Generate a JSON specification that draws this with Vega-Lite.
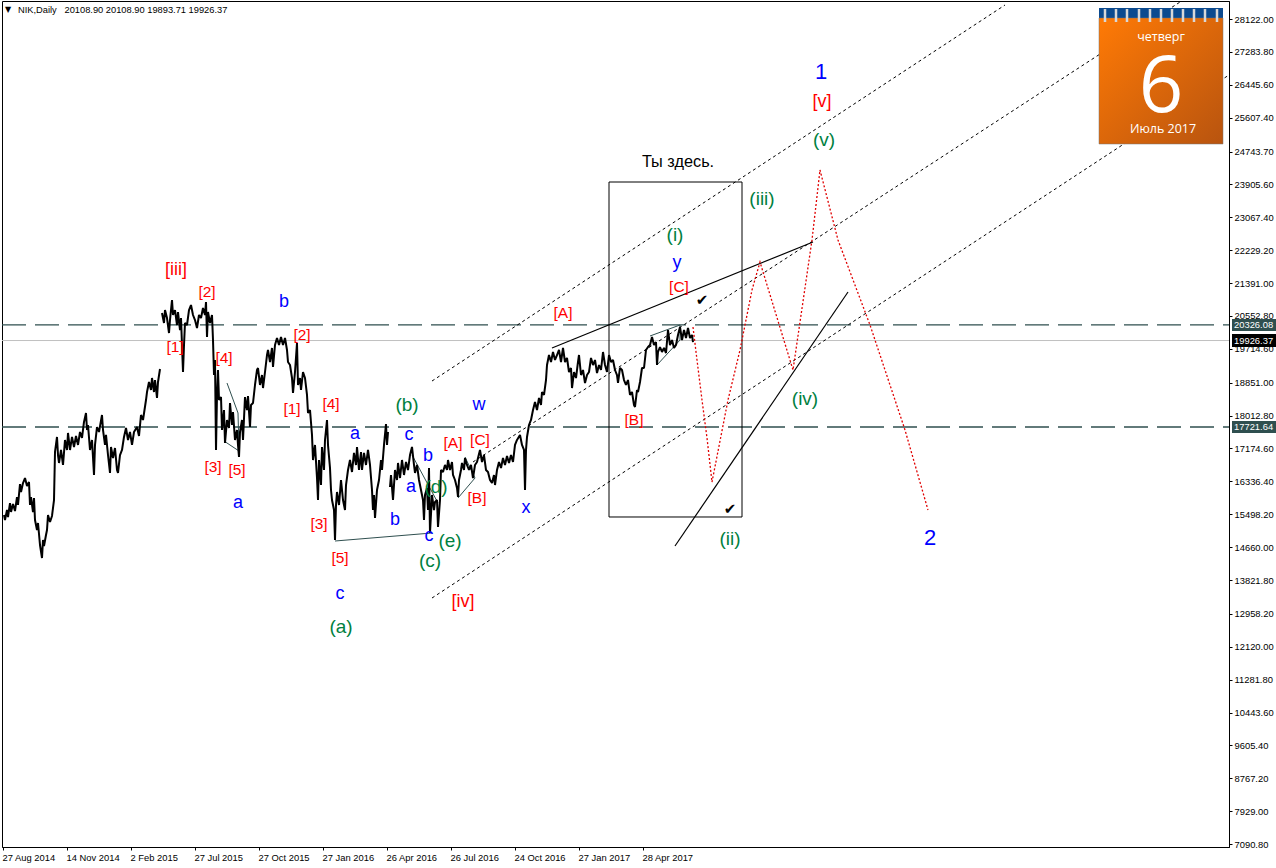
{"$schema":"https://vega.github.io/schema/vega-lite/v6.json","width":1227,"height":846,"autosize":{"type":"none"},"padding":{"left":2,"top":1,"right":47,"bottom":21},"background":"#ffffff","config":{"view":{"stroke":"#000000","strokeWidth":1},"axis":{"grid":false,"title":null,"domainColor":"#000000","tickColor":"#000000","labelColor":"#000000","labelFont":"Liberation Sans","labelFontSize":9.4,"tickSize":3,"labelOverlap":false,"labelBound":false,"labelFlush":false}},"datasets":{"price":[
{"seg":1,"bar":1,"price":15479},{"seg":1,"bar":2,"price":15352},{"seg":1,"bar":4,"price":15606},{"seg":1,"bar":5,"price":15428},{"seg":1,"bar":7,"price":15784},{"seg":1,"bar":8,"price":15555},{"seg":1,"bar":10,"price":15759},{"seg":1,"bar":12,"price":15581},{"seg":1,"bar":14,"price":15937},{"seg":1,"bar":15,"price":15734},{"seg":1,"bar":17,"price":16269},{"seg":1,"bar":18,"price":16065},{"seg":1,"bar":20,"price":16294},{"seg":1,"bar":22,"price":16422},{"seg":1,"bar":24,"price":16218},{"seg":1,"bar":26,"price":16320},{"seg":1,"bar":27,"price":15734},{"seg":1,"bar":28,"price":15937},{"seg":1,"bar":30,"price":15555},{"seg":1,"bar":31,"price":15912},{"seg":1,"bar":32,"price":15352},{"seg":1,"bar":34,"price":15097},{"seg":1,"bar":35,"price":15275},{"seg":1,"bar":37,"price":14714},{"seg":1,"bar":39,"price":14383},{"seg":1,"bar":40,"price":14842},{"seg":1,"bar":41,"price":14689},{"seg":1,"bar":43,"price":14969},{"seg":1,"bar":44,"price":15097},{"seg":1,"bar":45,"price":15479},{"seg":1,"bar":47,"price":15301},{"seg":1,"bar":49,"price":15454},{"seg":1,"bar":51,"price":15861},{"seg":1,"bar":52,"price":17085},{"seg":1,"bar":54,"price":17468},{"seg":1,"bar":55,"price":17008},{"seg":1,"bar":56,"price":16805},{"seg":1,"bar":58,"price":17136},{"seg":1,"bar":60,"price":16754},{"seg":1,"bar":62,"price":17391},{"seg":1,"bar":64,"price":17136},{"seg":1,"bar":65,"price":17570},{"seg":1,"bar":67,"price":17136},{"seg":1,"bar":69,"price":17468},{"seg":1,"bar":71,"price":17213},{"seg":1,"bar":73,"price":17493},{"seg":1,"bar":75,"price":17264},{"seg":1,"bar":77,"price":17595},{"seg":1,"bar":79,"price":17442},{"seg":1,"bar":81,"price":17850},{"seg":1,"bar":83,"price":18079},{"seg":1,"bar":84,"price":17646},{"seg":1,"bar":85,"price":17773},{"seg":1,"bar":87,"price":17136},{"seg":1,"bar":89,"price":17391},{"seg":1,"bar":91,"price":16499},{"seg":1,"bar":92,"price":17264},{"seg":1,"bar":94,"price":17722},{"seg":1,"bar":96,"price":17595},{"seg":1,"bar":99,"price":18028},{"seg":1,"bar":100,"price":17646},{"seg":1,"bar":102,"price":17264},{"seg":1,"bar":103,"price":17519},{"seg":1,"bar":105,"price":17008},{"seg":1,"bar":107,"price":16550},{"seg":1,"bar":108,"price":17213},{"seg":1,"bar":110,"price":16932},{"seg":1,"bar":112,"price":17187},{"seg":1,"bar":114,"price":16626},{"seg":1,"bar":115,"price":16550},{"seg":1,"bar":117,"price":17008},{"seg":1,"bar":119,"price":17136},{"seg":1,"bar":121,"price":17468},{"seg":1,"bar":123,"price":17697},{"seg":1,"bar":125,"price":17391},{"seg":1,"bar":127,"price":17595},{"seg":1,"bar":129,"price":17264},{"seg":1,"bar":131,"price":17595},{"seg":1,"bar":134,"price":17722},{"seg":1,"bar":136,"price":17493},{"seg":1,"bar":138,"price":18028},{"seg":1,"bar":140,"price":17901},{"seg":1,"bar":143,"price":18410},{"seg":1,"bar":144,"price":18614},{"seg":1,"bar":146,"price":18869},{"seg":1,"bar":148,"price":18665},{"seg":1,"bar":149,"price":18971},{"seg":1,"bar":151,"price":18614},{"seg":1,"bar":152,"price":18920},{"seg":1,"bar":154,"price":18461},{"seg":1,"bar":155,"price":18869},{"seg":1,"bar":157,"price":19200},
{"seg":2,"bar":159,"price":20628},{"seg":2,"bar":161,"price":20373},{"seg":2,"bar":162,"price":20704},{"seg":2,"bar":164,"price":20500},{"seg":2,"bar":166,"price":20118},{"seg":2,"bar":167,"price":20449},{"seg":2,"bar":169,"price":20959},{"seg":2,"bar":170,"price":20577},{"seg":2,"bar":172,"price":20704},{"seg":2,"bar":174,"price":20322},{"seg":2,"bar":175,"price":20653},{"seg":2,"bar":177,"price":20194},{"seg":2,"bar":178,"price":20500},{"seg":2,"bar":180,"price":19124},{"seg":2,"bar":181,"price":19812},{"seg":2,"bar":182,"price":20373},{"seg":2,"bar":184,"price":20322},{"seg":2,"bar":186,"price":20704},{"seg":2,"bar":188,"price":20832},{"seg":2,"bar":190,"price":20577},{"seg":2,"bar":192,"price":20449},{"seg":2,"bar":194,"price":20245},{"seg":2,"bar":196,"price":20577},{"seg":2,"bar":198,"price":20500},{"seg":2,"bar":200,"price":20755},{"seg":2,"bar":202,"price":20577},{"seg":2,"bar":203,"price":20908},{"seg":2,"bar":204,"price":20016},{"seg":2,"bar":205,"price":20653},{"seg":2,"bar":207,"price":20373},{"seg":2,"bar":209,"price":20577},{"seg":2,"bar":210,"price":19939},{"seg":2,"bar":211,"price":19047},{"seg":2,"bar":212,"price":19430},{"seg":2,"bar":213,"price":17136},{"seg":2,"bar":214,"price":18538},{"seg":2,"bar":215,"price":19175},{"seg":2,"bar":216,"price":18410},{"seg":2,"bar":218,"price":18486},{"seg":2,"bar":219,"price":17646},{"seg":2,"bar":221,"price":18155},{"seg":2,"bar":222,"price":17315},{"seg":2,"bar":224,"price":17901},{"seg":2,"bar":226,"price":17697},{"seg":2,"bar":227,"price":18334},{"seg":2,"bar":229,"price":17773},{"seg":2,"bar":230,"price":18104},{"seg":2,"bar":232,"price":17391},{"seg":2,"bar":234,"price":17646},{"seg":2,"bar":235,"price":17264},{"seg":2,"bar":236,"price":16958},{"seg":2,"bar":237,"price":17595},{"seg":2,"bar":239,"price":17901},{"seg":2,"bar":240,"price":17391},{"seg":2,"bar":242,"price":18486},{"seg":2,"bar":244,"price":18155},{"seg":2,"bar":245,"price":18512},{"seg":2,"bar":247,"price":17722},{"seg":2,"bar":248,"price":18283},{"seg":2,"bar":250,"price":18334},{"seg":2,"bar":252,"price":18793},{"seg":2,"bar":254,"price":19175},{"seg":2,"bar":255,"price":19226},{"seg":2,"bar":257,"price":18793},{"seg":2,"bar":259,"price":19047},{"seg":2,"bar":260,"price":18716},{"seg":2,"bar":262,"price":19124},{"seg":2,"bar":264,"price":19557},{"seg":2,"bar":265,"price":19685},{"seg":2,"bar":267,"price":19379},{"seg":2,"bar":269,"price":19736},{"seg":2,"bar":270,"price":19251},{"seg":2,"bar":272,"price":19812},{"seg":2,"bar":274,"price":19990},{"seg":2,"bar":276,"price":19812},{"seg":2,"bar":278,"price":20016},{"seg":2,"bar":280,"price":19812},{"seg":2,"bar":282,"price":19990},{"seg":2,"bar":284,"price":19685},{"seg":2,"bar":285,"price":19379},{"seg":2,"bar":287,"price":19302},{"seg":2,"bar":289,"price":18971},{"seg":2,"bar":290,"price":18589},{"seg":2,"bar":292,"price":19124},{"seg":2,"bar":294,"price":19863},{"seg":2,"bar":295,"price":18793},{"seg":2,"bar":297,"price":18971},{"seg":2,"bar":298,"price":18665},{"seg":2,"bar":300,"price":19124},{"seg":2,"bar":302,"price":18971},{"seg":2,"bar":304,"price":18538},{"seg":2,"bar":305,"price":18079},{"seg":2,"bar":307,"price":18155},{"seg":2,"bar":309,"price":17519},{"seg":2,"bar":310,"price":16881},{"seg":2,"bar":312,"price":17264},{"seg":2,"bar":314,"price":16422},{"seg":2,"bar":315,"price":15861},{"seg":2,"bar":316,"price":16881},{"seg":2,"bar":318,"price":16243},{"seg":2,"bar":319,"price":17213},{"seg":2,"bar":321,"price":16626},{"seg":2,"bar":322,"price":17391},{"seg":2,"bar":324,"price":17901},{"seg":2,"bar":325,"price":17264},{"seg":2,"bar":327,"price":16677},{"seg":2,"bar":328,"price":16116},{"seg":2,"bar":329,"price":15861},{"seg":2,"bar":331,"price":15606},{"seg":2,"bar":332,"price":14842},{"seg":2,"bar":333,"price":15734},{"seg":2,"bar":334,"price":16065},{"seg":2,"bar":336,"price":15734},{"seg":2,"bar":338,"price":16371},{"seg":2,"bar":340,"price":15861},{"seg":2,"bar":342,"price":15606},{"seg":2,"bar":343,"price":16243},{"seg":2,"bar":345,"price":16626},{"seg":2,"bar":347,"price":16881},{"seg":2,"bar":349,"price":16575},{"seg":2,"bar":351,"price":17060},{"seg":2,"bar":353,"price":16754},{"seg":2,"bar":354,"price":17213},{"seg":2,"bar":356,"price":16626},{"seg":2,"bar":358,"price":17085},{"seg":2,"bar":359,"price":16626},{"seg":2,"bar":361,"price":17060},{"seg":2,"bar":363,"price":16754},{"seg":2,"bar":365,"price":17136},{"seg":2,"bar":367,"price":16754},{"seg":2,"bar":369,"price":16116},{"seg":2,"bar":370,"price":15606},{"seg":2,"bar":371,"price":15989},{"seg":2,"bar":372,"price":15403},{"seg":2,"bar":374,"price":16116},{"seg":2,"bar":376,"price":16371},{"seg":2,"bar":378,"price":16881},{"seg":2,"bar":379,"price":16626},{"seg":2,"bar":381,"price":17264},{"seg":2,"bar":383,"price":17799},{"seg":2,"bar":384,"price":17264},{"seg":2,"bar":385,"price":17595},
{"seg":3,"bar":387,"price":16193},{"seg":3,"bar":388,"price":16498},{"seg":3,"bar":390,"price":15861},{"seg":3,"bar":392,"price":16626},{"seg":3,"bar":394,"price":16371},{"seg":3,"bar":395,"price":16805},{"seg":3,"bar":397,"price":16422},{"seg":3,"bar":399,"price":16881},{"seg":3,"bar":401,"price":16499},{"seg":3,"bar":403,"price":16830},{"seg":3,"bar":405,"price":16626},{"seg":3,"bar":407,"price":17008},{"seg":3,"bar":409,"price":17213},{"seg":3,"bar":411,"price":16754},{"seg":3,"bar":412,"price":16550},{"seg":3,"bar":414,"price":16754},{"seg":3,"bar":416,"price":16371},{"seg":3,"bar":418,"price":16116},{"seg":3,"bar":420,"price":15861},{"seg":3,"bar":421,"price":15352},{"seg":3,"bar":422,"price":15989},{"seg":3,"bar":424,"price":16167},{"seg":3,"bar":425,"price":15606},{"seg":3,"bar":426,"price":16677},{"seg":3,"bar":427,"price":15020},{"seg":3,"bar":429,"price":15989},{"seg":3,"bar":431,"price":15606},{"seg":3,"bar":432,"price":15810},{"seg":3,"bar":434,"price":15861},{"seg":3,"bar":435,"price":15173},{"seg":3,"bar":437,"price":15861},{"seg":3,"bar":438,"price":16626},{"seg":3,"bar":440,"price":16575},{"seg":3,"bar":442,"price":16754},{"seg":3,"bar":444,"price":16626},{"seg":3,"bar":445,"price":16881},{"seg":3,"bar":447,"price":16626},{"seg":3,"bar":449,"price":16830},{"seg":3,"bar":450,"price":16499},{"seg":3,"bar":452,"price":16371},{"seg":3,"bar":454,"price":16167},{"seg":3,"bar":455,"price":15938},{"seg":3,"bar":456,"price":16371},{"seg":3,"bar":458,"price":16626},{"seg":3,"bar":459,"price":16805},{"seg":3,"bar":461,"price":16626},{"seg":3,"bar":462,"price":16932},{"seg":3,"bar":464,"price":16754},{"seg":3,"bar":466,"price":16626},{"seg":3,"bar":468,"price":16754},{"seg":3,"bar":470,"price":16422},{"seg":3,"bar":472,"price":16754},{"seg":3,"bar":474,"price":16830},{"seg":3,"bar":477,"price":17136},{"seg":3,"bar":479,"price":16830},{"seg":3,"bar":481,"price":17008},{"seg":3,"bar":483,"price":16626},{"seg":3,"bar":485,"price":16575},{"seg":3,"bar":487,"price":16371},{"seg":3,"bar":489,"price":16294},{"seg":3,"bar":491,"price":16499},{"seg":3,"bar":492,"price":16243},{"seg":3,"bar":494,"price":16626},{"seg":3,"bar":496,"price":16830},{"seg":3,"bar":498,"price":16677},{"seg":3,"bar":500,"price":16932},{"seg":3,"bar":502,"price":16754},{"seg":3,"bar":504,"price":16983},{"seg":3,"bar":506,"price":16805},{"seg":3,"bar":508,"price":17008},{"seg":3,"bar":510,"price":16830},{"seg":3,"bar":512,"price":17264},{"seg":3,"bar":514,"price":17391},{"seg":3,"bar":517,"price":17519},{"seg":3,"bar":519,"price":17264},{"seg":3,"bar":521,"price":17136},{"seg":3,"bar":522,"price":16116},{"seg":3,"bar":523,"price":17136},{"seg":3,"bar":524,"price":17468},{"seg":3,"bar":526,"price":17773},{"seg":3,"bar":528,"price":17901},{"seg":3,"bar":530,"price":18155},{"seg":3,"bar":532,"price":18359},{"seg":3,"bar":534,"price":18155},{"seg":3,"bar":536,"price":18461},{"seg":3,"bar":538,"price":18283},{"seg":3,"bar":539,"price":18614},{"seg":3,"bar":541,"price":18538},{"seg":3,"bar":543,"price":18920},{"seg":3,"bar":544,"price":19302},{"seg":3,"bar":546,"price":19557},{"seg":3,"bar":548,"price":19379},{"seg":3,"bar":550,"price":19634},{"seg":3,"bar":552,"price":19430},{"seg":3,"bar":554,"price":19557},{"seg":3,"bar":556,"price":19685},{"seg":3,"bar":558,"price":19379},{"seg":3,"bar":560,"price":19736},{"seg":3,"bar":562,"price":19379},{"seg":3,"bar":564,"price":19481},{"seg":3,"bar":566,"price":19124},{"seg":3,"bar":568,"price":19226},{"seg":3,"bar":569,"price":18716},{"seg":3,"bar":571,"price":19124},{"seg":3,"bar":573,"price":18971},{"seg":3,"bar":575,"price":19379},{"seg":3,"bar":576,"price":19557},{"seg":3,"bar":578,"price":19047},{"seg":3,"bar":580,"price":19175},{"seg":3,"bar":582,"price":18844},{"seg":3,"bar":584,"price":19047},{"seg":3,"bar":586,"price":19124},{"seg":3,"bar":588,"price":19481},{"seg":3,"bar":590,"price":19302},{"seg":3,"bar":592,"price":19430},{"seg":3,"bar":594,"price":19098},{"seg":3,"bar":596,"price":19302},{"seg":3,"bar":598,"price":19175},{"seg":3,"bar":600,"price":19634},{"seg":3,"bar":602,"price":19302},{"seg":3,"bar":604,"price":19124},{"seg":3,"bar":606,"price":19557},{"seg":3,"bar":608,"price":19379},{"seg":3,"bar":610,"price":19430},{"seg":3,"bar":612,"price":19175},{"seg":3,"bar":614,"price":19047},{"seg":3,"bar":615,"price":18844},{"seg":3,"bar":617,"price":19226},{"seg":3,"bar":619,"price":19175},{"seg":3,"bar":621,"price":18920},{"seg":3,"bar":623,"price":18793},{"seg":3,"bar":625,"price":18920},{"seg":3,"bar":627,"price":18538},{"seg":3,"bar":629,"price":18614},{"seg":3,"bar":631,"price":18283},{"seg":3,"bar":632,"price":18232},{"seg":3,"bar":634,"price":18665},{"seg":3,"bar":635,"price":18614},{"seg":3,"bar":637,"price":18869},{"seg":3,"bar":639,"price":19226},{"seg":3,"bar":641,"price":19226},{"seg":3,"bar":643,"price":19685},{"seg":3,"bar":645,"price":19761},{"seg":3,"bar":647,"price":19812},{"seg":3,"bar":649,"price":20016},{"seg":3,"bar":651,"price":19812},{"seg":3,"bar":653,"price":19888},{"seg":3,"bar":654,"price":19302},{"seg":3,"bar":655,"price":19634},{"seg":3,"bar":657,"price":19761},{"seg":3,"bar":659,"price":19634},{"seg":3,"bar":661,"price":19736},{"seg":3,"bar":663,"price":19608},{"seg":3,"bar":665,"price":20194},{"seg":3,"bar":667,"price":19812},{"seg":3,"bar":669,"price":19939},{"seg":3,"bar":671,"price":19736},{"seg":3,"bar":673,"price":19812},{"seg":3,"bar":675,"price":20067},{"seg":3,"bar":677,"price":20271},{"seg":3,"bar":679,"price":19939},{"seg":3,"bar":681,"price":20194},{"seg":3,"bar":683,"price":19990},{"seg":3,"bar":685,"price":20245},{"seg":3,"bar":687,"price":19990},{"seg":3,"bar":689,"price":20067},{"seg":3,"bar":690,"price":19888}],
"levels":[{"id":"u","bar":-1,"price":20326.08},{"id":"u","bar":1226,"price":20326.08},{"id":"l","bar":-1,"price":17721.64},{"id":"l","bar":1226,"price":17721.64}],
"current":[{"bar":-1,"price":19926.37},{"bar":1226,"price":19926.37}],
"channels":[{"id":"top","bar":429,"price":18894},{"id":"top","bar":1002,"price":28479},{"id":"mid","bar":470,"price":16830},{"id":"mid","bar":1177,"price":28555},{"id":"bot","bar":429,"price":13363},{"id":"bot","bar":1226,"price":26695}],
"trends":[{"id":"A","bar":549,"price":19736},{"id":"A","bar":810,"price":22438},{"id":"B","bar":672,"price":14689},{"id":"B","bar":845,"price":21163}],
"thin":[{"id":"t1","ord":1,"bar":332,"price":14816},{"id":"t1","ord":2,"bar":429,"price":15020},{"id":"t2","ord":1,"bar":224,"price":18843},{"id":"t2","ord":2,"bar":235,"price":18079},{"id":"t2","ord":3,"bar":236,"price":17110},{"id":"t2","ord":4,"bar":221,"price":17365},{"id":"t3","ord":1,"bar":409,"price":17008},{"id":"t3","ord":2,"bar":435,"price":15785},{"id":"t4","ord":1,"bar":462,"price":16957},{"id":"t4","ord":2,"bar":472,"price":16422},{"id":"t4","ord":3,"bar":455,"price":15912},{"id":"t5","ord":1,"bar":647,"price":20042},{"id":"t5","ord":2,"bar":677,"price":20322},{"id":"t5","ord":3,"bar":677,"price":19939},{"id":"t5","ord":4,"bar":654,"price":19303}],
"forecast":[{"bar":690,"price":20271},{"bar":694,"price":19430},{"bar":699,"price":18410},{"bar":704,"price":17442},{"bar":709,"price":16320},{"bar":725,"price":18410},{"bar":737,"price":19685},{"bar":749,"price":21214},{"bar":757,"price":21928},{"bar":790,"price":19175},{"bar":809,"price":22489},{"bar":817,"price":24273},{"bar":835,"price":22489},{"bar":867,"price":20322},{"bar":902,"price":17646},{"bar":925,"price":15606}],
"box":[{"bar":606,"bar2":739,"price":23967,"price2":15428}],
"redLabels":[{"t":"[2]","bar":204,"price":21163},{"t":"[1]","bar":172,"price":19761},{"t":"[4]","bar":221,"price":19481},{"t":"[3]","bar":210,"price":16702},{"t":"[5]","bar":234,"price":16626},{"t":"[2]","bar":299,"price":20067},{"t":"[1]","bar":289,"price":18181},{"t":"[4]","bar":328,"price":18308},{"t":"[3]","bar":316,"price":15250},{"t":"[5]","bar":337,"price":14383},{"t":"[A]","bar":450,"price":17314},{"t":"[C]","bar":477,"price":17391},{"t":"[B]","bar":474,"price":15912},{"t":"[A]","bar":560,"price":20628},{"t":"[C]","bar":676,"price":21290},{"t":"[B]","bar":631,"price":17901}],
"redBig":[{"t":"[iii]","bar":173,"price":21724},{"t":"[iv]","bar":460,"price":13261},{"t":"[v]","bar":819,"price":26006}],
"blueLabels":[{"t":"b","bar":281,"price":20908},{"t":"a","bar":235,"price":15785},{"t":"a","bar":352,"price":17544},{"t":"b","bar":392,"price":15352},{"t":"c","bar":337,"price":13465},{"t":"c","bar":406,"price":17518},{"t":"b","bar":425,"price":16983},{"t":"a","bar":408,"price":16193},{"t":"c","bar":426,"price":14944},{"t":"w","bar":476,"price":18283},{"t":"x","bar":523,"price":15657},{"t":"y","bar":674,"price":21902}],
"blueBig":[{"t":"1","bar":818,"price":26771},{"t":"2","bar":927,"price":14893}],
"greenLabels":[{"t":"(b)","bar":404,"price":18283},{"t":"(a)","bar":338,"price":12624},{"t":"(c)","bar":427,"price":14306},{"t":"(d)","bar":433,"price":16193},{"t":"(e)","bar":447,"price":14816},{"t":"(i)","bar":672,"price":22616},{"t":"(ii)","bar":727,"price":14867},{"t":"(iii)","bar":759,"price":23534},{"t":"(iv)","bar":802,"price":18436},{"t":"(v)","bar":821,"price":25038}],
"note":[{"t":"Ты здесь.","bar":675,"price":24477}],
"checks":[{"t":"✔","bar":699,"price":20959},{"t":"✔","bar":727,"price":15632}],
"header":[{"t":"NIK,Daily\u00a0\u00a0\u00a020108.90 20108.90 19893.71 19926.37","bar":15,"price":28351}],
"arrow":[{"t":"▼","bar":5,"price":28351}],
"levelTags":[{"t":"20326.08","bar":1229,"bar2":1273,"price":20475,"price2":20169,"lab":1231,"mid":20326.08},{"t":"17721.64","bar":1229,"bar2":1273,"price":17875,"price2":17570,"lab":1231,"mid":17721.64}],
"currentTag":[{"t":"19926.37","bar":1229,"bar2":1273,"price":20092,"price2":19761,"lab":1231,"mid":19926.37}],
"calBand":[{"bar":1096,"bar2":1220,"price":28402,"price2":28147}],
"calBody":[{"bar":1096,"bar2":1220,"price":28147,"price2":24936}],
"calRings":[{"bar":1102,"price":28377,"price2":28045},{"bar":1113,"price":28377,"price2":28045},{"bar":1124,"price":28377,"price2":28045},{"bar":1136,"price":28377,"price2":28045},{"bar":1147,"price":28377,"price2":28045},{"bar":1158,"price":28377,"price2":28045},{"bar":1169,"price":28377,"price2":28045},{"bar":1180,"price":28377,"price2":28045},{"bar":1191,"price":28377,"price2":28045},{"bar":1202,"price":28377,"price2":28045},{"bar":1214,"price":28377,"price2":28045}],
"calDay":[{"t":"четверг","bar":1158,"price":27664}],
"calNum":[{"t":"6","bar":1158,"price":26337}],
"calMonth":[{"t":"Июль 2017","bar":1160,"price":25319}]
},
"encoding":{"x":{"field":"bar","type":"quantitative","scale":{"domain":[-1,1226],"nice":false,"zero":false},"axis":{"orient":"bottom","values":[0,64,128,192,256,320,384,448,512,576,640],"labelExpr":"['27 Aug 2014','14 Nov 2014','2 Feb 2015','27 Jul 2015','27 Oct 2015','27 Jan 2016','26 Apr 2016','26 Jul 2016','24 Oct 2016','27 Jan 2017','28 Apr 2017'][datum.value/64]","labelAlign":"left","labelPadding":3,"labelOffset":-1,"labelBaseline":"top"}},"y":{"field":"price","type":"quantitative","scale":{"domain":[7016,28581],"nice":false,"zero":false},"axis":{"orient":"right","values":[28122,27283.8,26445.6,25607.4,24743.7,23905.6,23067.4,22229.2,21391,20552.8,19714.6,18851,18012.8,17174.6,16336.4,15498.2,14660,13821.8,12958.2,12120,11281.8,10443.6,9605.4,8767.2,7929,7090.8],"format":".2f","labelPadding":2}}},
"layer":[
{"data":{"name":"current"},"mark":{"type":"line","color":"#c0c0c0","strokeWidth":1}},
{"data":{"name":"levels"},"mark":{"type":"line","color":"#2f4f4f","strokeWidth":1.4,"strokeDash":[24,9]},"encoding":{"detail":{"field":"id"}}},
{"data":{"name":"channels"},"mark":{"type":"line","color":"#000000","strokeWidth":1,"strokeDash":[3,3],"clip":true},"encoding":{"detail":{"field":"id"}}},
{"data":{"name":"box"},"mark":{"type":"rect","fill":"transparent","stroke":"#000000","strokeWidth":1},"encoding":{"x2":{"field":"bar2"},"y2":{"field":"price2"}}},
{"data":{"name":"thin"},"mark":{"type":"line","color":"#2f4f4f","strokeWidth":1},"encoding":{"detail":{"field":"id"},"order":{"field":"ord"}}},
{"data":{"name":"trends"},"mark":{"type":"line","color":"#000000","strokeWidth":1.2},"encoding":{"detail":{"field":"id"}}},
{"data":{"name":"price"},"mark":{"type":"line","color":"#000000","strokeWidth":2,"strokeJoin":"bevel"},"encoding":{"detail":{"field":"seg"}}},
{"data":{"name":"forecast"},"mark":{"type":"line","color":"#e00000","strokeWidth":1.3,"strokeDash":[2,2]}},
{"data":{"name":"redLabels"},"mark":{"type":"text","font":"Liberation Sans","fontSize":15.5,"color":"#ff0000"},"encoding":{"text":{"field":"t"}}},
{"data":{"name":"redBig"},"mark":{"type":"text","font":"Liberation Sans","fontSize":18,"color":"#ff0000"},"encoding":{"text":{"field":"t"}}},
{"data":{"name":"blueLabels"},"mark":{"type":"text","font":"Liberation Sans","fontSize":18,"color":"#0000ff"},"encoding":{"text":{"field":"t"}}},
{"data":{"name":"blueBig"},"mark":{"type":"text","font":"Liberation Sans","fontSize":22,"color":"#0000ff"},"encoding":{"text":{"field":"t"}}},
{"data":{"name":"greenLabels"},"mark":{"type":"text","font":"Liberation Sans","fontSize":19,"color":"#008040"},"encoding":{"text":{"field":"t"}}},
{"data":{"name":"note"},"mark":{"type":"text","font":"Liberation Sans","fontSize":16.3,"color":"#000000"},"encoding":{"text":{"field":"t"}}},
{"data":{"name":"checks"},"mark":{"type":"text","font":"DejaVu Sans","fontSize":15,"color":"#000000"},"encoding":{"text":{"field":"t"}}},
{"data":{"name":"header"},"mark":{"type":"text","font":"Liberation Sans","fontSize":9.3,"align":"left","color":"#000000"},"encoding":{"text":{"field":"t"}}},
{"data":{"name":"arrow"},"mark":{"type":"text","font":"DejaVu Sans","fontSize":8,"color":"#000000"},"encoding":{"text":{"field":"t"}}},
{"data":{"name":"levelTags"},"mark":{"type":"rect","fill":"#2f4f4f"},"encoding":{"x2":{"field":"bar2"},"y2":{"field":"price2"}}},
{"data":{"name":"currentTag"},"mark":{"type":"rect","fill":"#000000"},"encoding":{"x2":{"field":"bar2"},"y2":{"field":"price2"}}},
{"data":{"name":"levelTags"},"mark":{"type":"text","font":"Liberation Sans","fontSize":9.4,"align":"left","color":"#ffffff"},"encoding":{"x":{"field":"lab","type":"quantitative"},"y":{"field":"mid","type":"quantitative"},"text":{"field":"t"}}},
{"data":{"name":"currentTag"},"mark":{"type":"text","font":"Liberation Sans","fontSize":9.4,"align":"left","color":"#ffffff"},"encoding":{"x":{"field":"lab","type":"quantitative"},"y":{"field":"mid","type":"quantitative"},"text":{"field":"t"}}},
{"data":{"name":"calBand"},"mark":{"type":"rect","fill":"#0b4a8f"},"encoding":{"x2":{"field":"bar2"},"y2":{"field":"price2"}}},
{"data":{"name":"calBody"},"mark":{"type":"rect","stroke":"#777777","strokeWidth":0.5,"fill":{"gradient":"linear","x1":0,"y1":0,"x2":1,"y2":1,"stops":[{"offset":0,"color":"#ff7a05"},{"offset":1,"color":"#b8540f"}]}},"encoding":{"x2":{"field":"bar2"},"y2":{"field":"price2"}}},
{"data":{"name":"calRings"},"mark":{"type":"rule","color":"#d8d8d8","strokeWidth":2.5},"encoding":{"y2":{"field":"price2"}}},
{"data":{"name":"calDay"},"mark":{"type":"text","font":"Open Sans","fontSize":12.5,"color":"#ffffff"},"encoding":{"text":{"field":"t"}}},
{"data":{"name":"calNum"},"mark":{"type":"text","font":"Open Sans","fontSize":78,"color":"#ffffff"},"encoding":{"text":{"field":"t"}}},
{"data":{"name":"calMonth"},"mark":{"type":"text","font":"Open Sans","fontSize":12.5,"color":"#ffffff"},"encoding":{"text":{"field":"t"}}}
]}
